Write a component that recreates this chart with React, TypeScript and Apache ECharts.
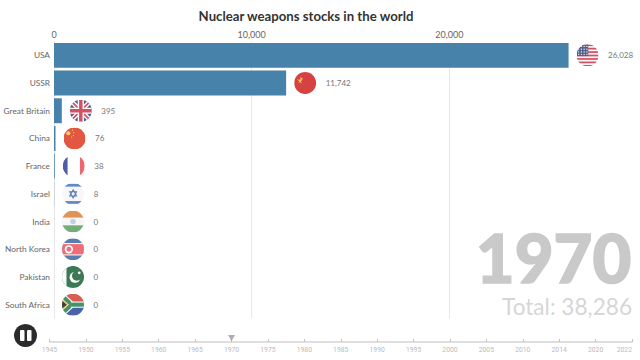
import React, { useEffect, useRef } from "react";
import * as echarts from "echarts";

const countries = ["USA", "USSR", "Great Britain", "China", "France", "Israel", "India", "North Korea", "Pakistan", "South Africa"];
const stocks = [26028, 11742, 395, 76, 38, 8, 0, 0, 0, 0];
const timelineYears = ["1945", "1950", "1955", "1960", "1965", "1970", "1975", "1980", "1985", "1990", "1995", "2000", "2005", "2010", "2014", "2020", "2022"];
const currentYear = "1970";
const totalText = "Total: 38,286";
const valueTicks = [0, 10000, 20000, 30000];

const FONT = "Lato, sans-serif";

const wrap = (body: string) =>
  "image://data:image/svg+xml;utf8," +
  encodeURIComponent(
    `<svg xmlns="http://www.w3.org/2000/svg" width="64" height="64" viewBox="0 0 64 64"><defs><clipPath id="c"><circle cx="32" cy="32" r="32"/></clipPath></defs><g clip-path="url(#c)">${body}</g></svg>`
  );

const flags: Record<string, string> = {
  USA: wrap(
    `<rect width="64" height="64" fill="#f4f4f4"/>` +
      [0, 10, 20, 30, 40, 50, 60].map((y) => `<rect y="${y}" width="64" height="5" fill="#c8263c"/>`).join("") +
      `<rect width="34" height="34" fill="#27386f"/>` +
      [6, 14, 22, 30].flatMap((x) => [6, 14, 22, 29].map((y) => `<circle cx="${x}" cy="${y}" r="2" fill="#fff"/>`)).join("")
  ),
  USSR: wrap(
    `<rect width="64" height="64" fill="#cc1212"/><g transform="translate(5 5) scale(0.7)"><path d="M6 20c5 7 10 7 14 1l-4-3 3-4 6 4 3-3 2 2-3 3c1 5-2 10-7 12l5 5-3 3-6-6-4 4-2-2 5-5C10 29 7 26 6 20z" fill="#f0a92e"/></g>`
  ),
  "Great Britain": wrap(
    `<rect width="64" height="64" fill="#27386f"/><path d="M0 0L64 64M64 0L0 64" stroke="#fff" stroke-width="13"/><path d="M0 0L64 64M64 0L0 64" stroke="#c8263c" stroke-width="5"/><path d="M32 0V64M0 32H64" stroke="#fff" stroke-width="18"/><path d="M32 0V64M0 32H64" stroke="#c8263c" stroke-width="10"/>`
  ),
  China: wrap(
    `<rect width="64" height="64" fill="#dd2c10"/><circle cx="14" cy="17" r="6" fill="#f5c542"/><circle cx="26" cy="8" r="1.8" fill="#f5c542"/><circle cx="30" cy="15" r="1.8" fill="#f5c542"/><circle cx="29" cy="23" r="1.8" fill="#f5c542"/><circle cx="24" cy="28" r="1.8" fill="#f5c542"/>`
  ),
  France: wrap(
    `<rect width="64" height="64" fill="#fff"/><rect width="14" height="64" fill="#24358f"/><rect x="50" width="14" height="64" fill="#e8434b"/>`
  ),
  Israel: wrap(
    `<rect width="64" height="64" fill="#f6f6f6"/><rect y="3" width="64" height="8" fill="#3a6cc0"/><rect y="53" width="64" height="8" fill="#3a6cc0"/><path d="M32 20L42 38H22ZM32 44L22 26H42Z" fill="none" stroke="#2c5cb0" stroke-width="3"/>`
  ),
  India: wrap(
    `<rect width="64" height="21" fill="#d9772e"/><rect y="21" width="64" height="22" fill="#f6f6f6"/><rect y="43" width="64" height="21" fill="#4f9a55"/><circle cx="32" cy="32" r="8" fill="#b9c4d8"/>`
  ),
  "North Korea": wrap(
    `<rect width="64" height="64" fill="#2f5f9e"/><rect y="14" width="64" height="36" fill="#fff"/><rect y="17" width="64" height="30" fill="#e94a55"/><circle cx="20" cy="32" r="12" fill="#fff"/><circle cx="20" cy="32" r="7" fill="#e94a55"/>`
  ),
  Pakistan: wrap(
    `<rect width="64" height="64" fill="#0b5a2a"/><rect width="13" height="64" fill="#fff"/><circle cx="38" cy="33" r="16" fill="#fff"/><circle cx="43" cy="29" r="14" fill="#0b5a2a"/><circle cx="50" cy="20" r="4" fill="#fff"/>`
  ),
  "South Africa": wrap(
    `<rect width="64" height="32" fill="#d1352b"/><rect y="32" width="64" height="32" fill="#1f3c96"/><path d="M0 6L28 32L0 58" fill="none" stroke="#fff" stroke-width="18"/><path d="M0 6L28 32L0 58" fill="none" stroke="#157a48" stroke-width="12"/><rect x="26" y="23" width="38" height="18" fill="#fff"/><rect x="26" y="26" width="38" height="12" fill="#157a48"/><path d="M0 15L20 32L0 49Z" fill="#f5c542"/><path d="M0 20L14 32L0 44Z" fill="#111"/>`
  ),
};

export default function App() {
  const ref = useRef<HTMLDivElement>(null);
  useEffect(() => {
    const chart = echarts.init(ref.current!, undefined, { renderer: "svg" });
    chart.setOption({
      animation: false,
      backgroundColor: "#fff",
      title: {
        text: "Nuclear weapons stocks in the world",
        left: 301,
        top: 4,
        textAlign: "center",
        textStyle: { fontFamily: FONT, fontWeight: 700, fontSize: 13.2, color: "#333" },
      },
      grid: [
        { left: 54, top: 41.5, width: 593.1, height: 277, outerBoundsMode: "none", containLabel: false },
        { left: 49.5, top: 341, width: 582.5, height: 1, outerBoundsMode: "none", containLabel: false },
      ],
      xAxis: [
        {
          type: "value",
          gridIndex: 0,
          position: "top",
          min: valueTicks[0],
          max: valueTicks[3],
          interval: valueTicks[1],
          axisLine: { show: false },
          axisTick: { show: false },
          axisLabel: {
            margin: 3,
            fontFamily: FONT,
            fontSize: 9,
            color: "#666",
            formatter: (v: number) => (v >= valueTicks[3] ? "" : v.toLocaleString("en-US")),
          },
          splitLine: { show: true, lineStyle: { color: "#e8e8e8", width: 1 } },
        },
        {
          type: "category",
          gridIndex: 1,
          data: timelineYears,
          boundaryGap: false,
          position: "bottom",
          axisLine: { lineStyle: { color: "#d4d4d4", width: 1.5 } },
          axisTick: { show: true, inside: true, length: 3, lineStyle: { color: "#c4c4c4" }, interval: 0 },
          axisLabel: { interval: 0, margin: 4, alignMaxLabel: "right", fontFamily: "Roboto, sans-serif", fontSize: 6.8, color: "#bbb" },
          splitLine: { show: false },
        },
      ],
      yAxis: [
        {
          type: "category",
          gridIndex: 0,
          data: countries,
          inverse: true,
          axisLine: { show: false },
          axisTick: { show: false },
          axisLabel: { margin: 4, fontFamily: FONT, fontSize: 8.3, color: "#666" },
        },
        { type: "value", gridIndex: 1, min: 0, max: 1, show: false },
      ],
      series: [
        {
          type: "bar",
          xAxisIndex: 0,
          yAxisIndex: 0,
          data: stocks,
          barWidth: "90%",
          itemStyle: { color: "#4682a9" },
          label: {
            show: true,
            position: "right",
            distance: 39.5,
            fontFamily: FONT,
            fontSize: 8,
            color: "#777",
            formatter: (p: any) => Number(p.value).toLocaleString("en-US"),
          },
        },
        {
          type: "scatter",
          xAxisIndex: 0,
          yAxisIndex: 0,
          symbolSize: 22,
          symbolOffset: [19, 0],
          clip: false,
          z: 5,
          data: countries.map((c, i) => ({ value: [stocks[i], c], symbol: flags[c] })),
        },
        {
          type: "scatter",
          xAxisIndex: 1,
          yAxisIndex: 1,
          symbol: "triangle",
          symbolRotate: 180,
          symbolSize: [7, 6],
          symbolOffset: [0, -3],
          itemStyle: { color: "#999" },
          clip: false,
          data: [[currentYear, 1]],
        },
      ],
      graphic: [
        {
          type: "text",
          right: 8,
          top: 223,
          z: 10,
          style: { text: currentYear, fontFamily: FONT, fontWeight: 900, fontSize: 67, lineHeight: 50, fill: "#c9c9c9", stroke: "#c9c9c9", lineWidth: 1.5 },
        },
        {
          type: "text",
          right: 8,
          top: 294,
          z: 10,
          style: { text: totalText, fontFamily: FONT, fontWeight: 400, fontSize: 22.6, lineHeight: 24, fill: "#d6d6d6" },
        },
        { type: "circle", z: 10, shape: { cx: 25.5, cy: 335.5, r: 11.5 }, style: { fill: "#2b2b2b" } },
        { type: "rect", z: 11, shape: { x: 20, y: 330, width: 4.5, height: 11, r: 1 }, style: { fill: "#fff" } },
        { type: "rect", z: 11, shape: { x: 27, y: 330, width: 4.5, height: 11, r: 1 }, style: { fill: "#fff" } },
      ],
    });
    return () => chart.dispose();
  }, []);
  return (
    <div style={{ position: "fixed", left: 0, top: 0, width: 640, height: 360, background: "#fff" }}>
      <div ref={ref} style={{ width: 640, height: 360 }} />
    </div>
  );
}
